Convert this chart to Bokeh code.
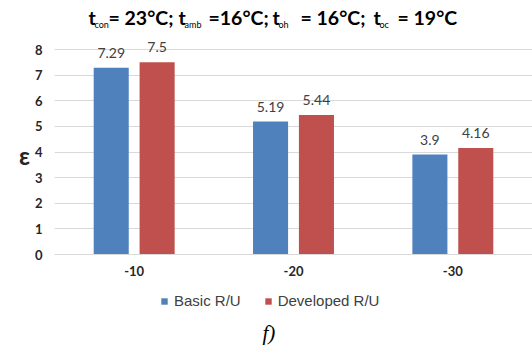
from bokeh.plotting import figure
from bokeh.models import ColumnDataSource, FactorRange, LabelSet, Label, Legend, LegendItem, Title
from bokeh.core.properties import value
from bokeh.transform import dodge
from bokeh.embed import file_html
from bokeh.resources import INLINE

categories = ["-10", "-20", "-30"]
basic = [7.29, 5.19, 3.9]
developed = [7.5, 5.44, 4.16]
series_names = ["Basic R/U", "Developed R/U"]
y_ticks = [0, 1, 2, 3, 4, 5, 6, 7, 8]
caption = "f)"
# title pieces: (text, is_subscript, left pixel)
title_parts = [
    ("t", False, 88), ("con", True, 94), ("= 23°C;", False, 108),
    ("t", False, 178), ("amb", True, 184), ("=16°C;", False, 208),
    ("t", False, 272), ("oh", True, 278), ("= 16°C;", False, 300),
    ("t", False, 373), ("oc", True, 379), ("= 19°C", False, 397),
]

BLUE = "#4F81BD"
RED = "#C0504D"
FONT = "Lato"

src = ColumnDataSource(dict(
    cat=categories,
    basic=basic,
    developed=developed,
    basic_txt=[f"{v:g}" for v in basic],
    developed_txt=[f"{v:g}" for v in developed],
))

W, H = 532, 349
FL = 54          # frame left
FBOT = 310       # frame bottom (pixel)
Y0, Y8 = 254, 49  # pixel rows of 0 and 8
ppu = (Y0 - Y8) / 8.0
y_lo = -(FBOT - Y0) / ppu
y_hi = Y0 / ppu

p = figure(width=W, height=H, x_range=FactorRange(factors=categories, range_padding=0),
           y_range=(y_lo, y_hi), output_backend="svg", toolbar_location=None,
           min_border_left=FL, min_border_right=0, min_border_top=0,
           min_border_bottom=H - FBOT)
p.outline_line_color = None

off = 0.144
bw = 0.22
r1 = p.vbar(x=dodge("cat", -off, range=p.x_range), top="basic", width=bw, source=src,
            fill_color=BLUE, line_color=None)
r2 = p.vbar(x=dodge("cat", off, range=p.x_range), top="developed", width=bw, source=src,
            fill_color=RED, line_color=None)

for col, o in (("basic", -off), ("developed", off)):
    p.add_layout(LabelSet(x=dodge("cat", o, range=p.x_range), y=col, text=col + "_txt",
                          source=src, text_align="center", text_baseline="alphabetic",
                          y_offset=10, text_font=value(FONT), text_font_size=value("14px"),
                          text_color=value("#404040")))

p.xgrid.grid_line_color = None
p.ygrid.grid_line_color = "#D9D9D9"
p.ygrid.ticker = y_ticks

p.yaxis.ticker = y_ticks
p.yaxis.axis_line_color = None
p.yaxis.major_tick_line_color = None
p.yaxis.major_tick_out = 0
p.yaxis.major_tick_in = 0
p.yaxis.minor_tick_line_color = None
p.yaxis.major_label_standoff = 12
p.yaxis.major_label_text_font = FONT
p.yaxis.major_label_text_font_style = "bold"
p.yaxis.major_label_text_font_size = "13px"
p.yaxis.major_label_text_color = "#262626"
p.yaxis.axis_label = "ε"
p.yaxis.axis_label_orientation = "horizontal"
p.yaxis.axis_label_standoff = 2
p.yaxis.axis_label_text_font = FONT
p.yaxis.axis_label_text_font_style = "bold"
p.yaxis.axis_label_text_font_size = "24px"
p.yaxis.axis_label_text_color = "#262626"

p.xaxis.fixed_location = 0
p.xaxis.axis_line_color = "#D9D9D9"
p.xaxis.major_tick_line_color = None
p.xaxis.major_tick_out = 0
p.xaxis.major_tick_in = 0
p.xaxis.minor_tick_line_color = None
p.xaxis.major_label_standoff = 11
p.xaxis.major_label_text_font = FONT
p.xaxis.major_label_text_font_style = "bold"
p.xaxis.major_label_text_font_size = "13px"
p.xaxis.major_label_text_color = "#262626"

MAIN_Y = 293
SUB_Y = 286
for text, sub, px in title_parts:
    p.add_layout(Label(x=px - FL, y=SUB_Y if sub else MAIN_Y, x_units="screen",
                       y_units="screen", text=text, text_align="left",
                       text_baseline="alphabetic", text_font=FONT,
                       text_font_style="bold" if not sub else "normal",
                       text_font_size="9px" if sub else "19.5px", text_color="#000000"))

legend = Legend(items=[LegendItem(label=series_names[0], renderers=[r1]),
                       LegendItem(label=series_names[1], renderers=[r2])],
                orientation="horizontal", location=(106, 1),
                glyph_width=8, glyph_height=8, label_height=8, label_standoff=6,
                spacing=23, padding=0, margin=0, border_line_color=None,
                background_fill_alpha=0, label_text_font="Liberation Sans",
                label_text_font_size="15px", label_text_color="#404040")
p.add_layout(legend, "center")

# small blank spacer title pushes the caption a little lower
p.add_layout(Title(text=" ", text_font_size="5px", standoff=0), "below")
p.add_layout(Title(text=caption, align="left", offset=262 - FL, text_font="Liberation Serif",
                   text_font_style="italic", text_font_size="21px", text_color="#000000",
                   standoff=0), "below")

open("out.html", "w").write(file_html(p, INLINE))
